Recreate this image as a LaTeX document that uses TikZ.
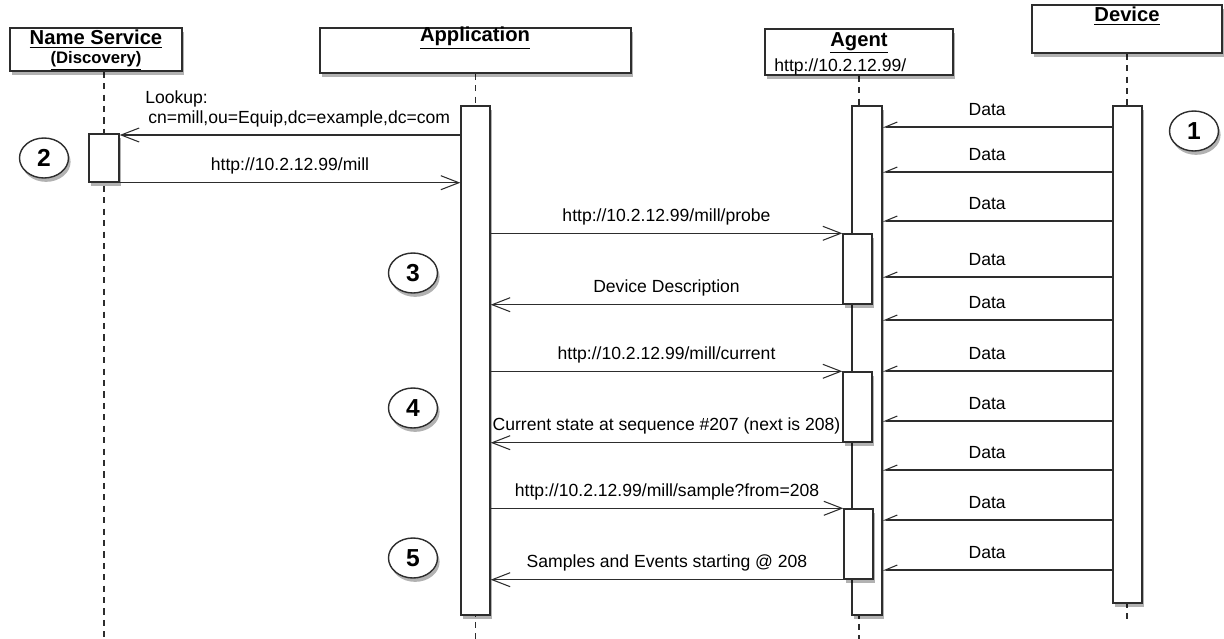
\documentclass[tikz,border=0pt]{standalone}
\usepackage{fontspec}
\setmainfont{Liberation Sans}
\usetikzlibrary{arrows.meta,positioning,shapes.geometric,fit,shadows,backgrounds}
\definecolor{lineblack}{RGB}{45,45,45}
\tikzset{
 shade/.style={drop shadow={shadow xshift=1.2pt,shadow yshift=-2.2pt,opacity=0.3,fill=black}},
 head/.style={rectangle,draw=lineblack,fill=white,line width=0.8pt,inner sep=0pt,shade},
 bar/.style={rectangle,draw=lineblack,fill=white,line width=0.8pt,inner sep=0pt,shade},
 title/.style={inner sep=0pt,font=\fontsize{11.5}{13}\selectfont\bfseries},
 lbl/.style={inner sep=0pt,font=\fontsize{10}{11.4}\selectfont,text height=7.2pt,text depth=0pt},
 life/.style={draw=lineblack,line width=0.6pt,dash pattern=on 3.5pt off 3pt},
 msg/.style={-{Straight Barb[length=3.6mm,width=2.8mm]},draw=lineblack,line width=0.6pt},
 datamsg/.style={-{Straight Barb[harpoon,swap,length=2.4mm,width=2mm]},draw=lineblack,line width=0.6pt},
 num/.style={ellipse,draw=lineblack,fill=white,line width=0.8pt,minimum width=0.98cm,minimum height=0.8cm,inner sep=0pt,font=\fontsize{14}{16}\selectfont\bfseries,shade}}

\begin{document}
\begin{tikzpicture}[x=0.02cm,y=-0.02cm]
\useasboundingbox (0,0) rectangle (1224,639);
% head boxes
\node[head,fit={(10,28) (182,71)}] (nsHead) {};
\node[head,fit={(320,28) (631,73)}] (appHead) {};
\node[head,fit={(765,29) (953,75)}] (agentHead) {};
\node[head,fit={(1032,5) (1222,53)}] (devHead) {};
\node[title] (nsTitle) at (96,39) {\underline{Name Service}};
\node[title,font=\fontsize{9.5}{11}\selectfont\bfseries] (nsSub) at (96,61) {\underline{(Discovery)}};
\node[title] (appTitle) at (475,38) {\underline{Application}};
\node[title] (agentTitle) at (859,43) {\underline{Agent}};
\node[lbl,anchor=west] (agentUrl) at (774,65) {http://10.2.12.99/};
\node[title] (devTitle) at (1127,16) {\underline{Device}};
% activation bars
\node[bar,fit={(89,134) (119,182)}] (nsBar) {};
\node[bar,fit={(461,106) (490,615)}] (appBar) {};
\node[bar,fit={(852,106) (882,615)}] (agentBar) {};
\node[bar,fit={(1113,106) (1142,603)}] (devBar) {};
\node[bar,fit={(843,234) (872,304)}] (probeBar) {};
\node[bar,fit={(843,372) (872,442)}] (curBar) {};
\node[bar,fit={(844,509) (873,579)}] (sampBar) {};
% lifelines
\begin{scope}[on background layer]
\draw[life] (nsHead.south -| nsBar) -- (nsBar |- 0,639);
\draw[life] (appHead.south) -- (appHead.south |- 0,639);
\draw[life] (agentHead.south) -- (agentHead.south |- 0,639);
\draw[life] (devHead.south) -- (devHead.south |- 0,620);
\end{scope}
% lookup
\draw[msg] (appBar.west |- 0,135) -- (nsBar.east |- 0,135);
\node[lbl,text height=,text depth=,align=left,anchor=west] (lookupTxt) at (145,108.5) {Lookup:\\\,cn=mill,ou=Equip,dc=example,dc=com};
\draw[msg] (nsBar.south east) -- node[lbl,above=6.5pt]{http://10.2.12.99/mill} (appBar.west |- nsBar.south east);
% probe, current, sample
\draw[msg] (appBar.east |- probeBar.north west) -- node[lbl,above=6.5pt]{http://10.2.12.99/mill/probe} (probeBar.north west);
\draw[msg] (probeBar.south west) -- node[lbl,above=6.5pt]{Device Description} (appBar.east |- probeBar.south west);
\draw[msg] (appBar.east |- curBar.north west) -- node[lbl,above=6.5pt]{http://10.2.12.99/mill/current} (curBar.north west);
\draw[msg] (curBar.south west) -- node[lbl,above=6.5pt]{Current state at sequence \#207 (next is 208)} (appBar.east |- curBar.south west);
\draw[msg] (appBar.east |- sampBar.north west) -- node[lbl,above=6.5pt]{http://10.2.12.99/mill/sample?from=208} (sampBar.north west);
\draw[msg] (sampBar.south west) -- node[lbl,above=6.5pt]{Samples and Events starting @ 208} (appBar.east |- sampBar.south west);
% data stream
\foreach \y in {127,172,221,277,320,371,421,470,520,570}
 \draw[datamsg] (devBar.west |- 0,\y) -- node[lbl,above=6pt,pos=0.545]{Data} (agentBar.east |- 0,\y);
% step numbers
\node[num] (c1) at (1194,131) {1};
\node[num] (c2) at (44,158) {2};
\node[num] (c3) at (413,273) {3};
\node[num] (c4) at (413,408) {4};
\node[num] (c5) at (413,558) {5};
\end{tikzpicture}
\end{document}
